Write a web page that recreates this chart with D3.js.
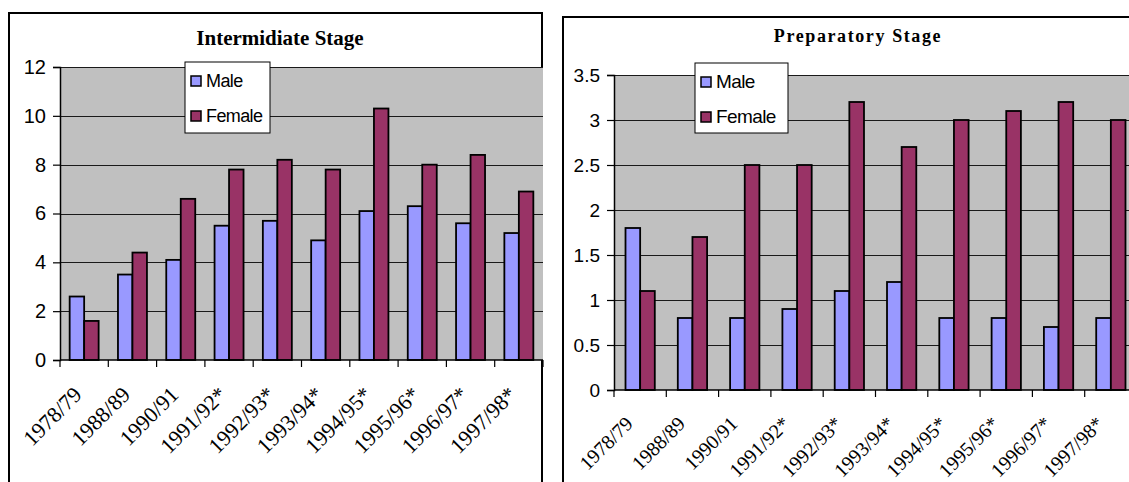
<!DOCTYPE html>
<html>
<head>
<meta charset="utf-8">
<script src="https://cdn.jsdelivr.net/npm/d3@7"></script>
<style>
  html, body { margin: 0; padding: 0; background: #fff; }
  svg { display: block; }
</style>
</head>
<body>
<svg id="chart" width="1129" height="482"></svg>
<script>
// School years shown on both charts
const years = ["1978/79", "1988/89", "1990/91", "1991/92*", "1992/93*", "1993/94*", "1994/95*", "1995/96*", "1996/97*", "1997/98*"];
const seriesNames = ["Male", "Female"];

// Intermidiate Stage values
const intermMale   = [2.6, 3.5, 4.1, 5.5, 5.7, 4.9, 6.1, 6.3, 5.6, 5.2];
const intermFemale = [1.6, 4.4, 6.6, 7.8, 8.2, 7.8, 10.3, 8.0, 8.4, 6.9];
const intermTicks  = [0, 2, 4, 6, 8, 10, 12];

// Preparatory Stage values
const prepMale   = [1.8, 0.8, 0.8, 0.9, 1.1, 1.2, 0.8, 0.8, 0.7, 0.8];
const prepFemale = [1.1, 1.7, 2.5, 2.5, 3.2, 2.7, 3.0, 3.1, 3.2, 3.0];
const prepTicks  = [0, 0.5, 1, 1.5, 2, 2.5, 3, 3.5];

const colors = { Male: "#9999FF", Female: "#993366" };

const svg = d3.select("#chart");

function drawChart(cfg) {
  const g = svg.append("g");

  // outer frame
  g.append("rect")
    .attr("x", cfg.frame[0]).attr("y", cfg.frame[1])
    .attr("width", cfg.frame[2]).attr("height", cfg.frame[3])
    .attr("fill", "#fff").attr("stroke", "#000").attr("stroke-width", 2);

  // title
  g.append("text")
    .attr("x", cfg.titleX).attr("y", cfg.titleY)
    .attr("text-anchor", "middle")
    .attr("font-family", "'Liberation Serif', 'Times New Roman', serif")
    .attr("font-weight", "bold")
    .attr("font-size", cfg.titleSize)
    .attr("letter-spacing", cfg.titleSpacing)
    .text(cfg.title);

  const x = d3.scaleBand().domain(years).range([cfg.left, cfg.right]).padding(0);
  const y = d3.scaleLinear().domain([0, cfg.ticks[cfg.ticks.length - 1]]).range([cfg.bottom, cfg.top]);
  const pad = (1 / cfg.pairRatio - 1);
  const xs = d3.scaleBand().domain(seriesNames).range([0, x.bandwidth()]).paddingInner(0).paddingOuter(pad);

  // plot background
  g.append("rect")
    .attr("x", cfg.left).attr("y", cfg.top)
    .attr("width", cfg.right - cfg.left).attr("height", cfg.bottom - cfg.top)
    .attr("fill", "#C0C0C0");

  // gridlines
  g.append("g").selectAll("line").data(cfg.ticks.slice(1)).join("line")
    .attr("x1", cfg.left).attr("x2", cfg.right)
    .attr("y1", d => Math.round(y(d)) + 0.5).attr("y2", d => Math.round(y(d)) + 0.5)
    .attr("stroke", "#1a1a1a").attr("stroke-width", 1);

  // bars
  const rows = years.map((yr, i) => ({ year: yr, Male: cfg.male[i], Female: cfg.female[i] }));
  const groups = g.append("g").selectAll("g").data(rows).join("g")
    .attr("transform", d => `translate(${x(d.year)},0)`);
  groups.selectAll("rect").data(d => seriesNames.map(k => ({ key: k, value: d[k] }))).join("rect")
    .attr("x", d => xs(d.key))
    .attr("y", d => y(d.value))
    .attr("width", xs.bandwidth())
    .attr("height", d => cfg.bottom - y(d.value))
    .attr("fill", d => colors[d.key])
    .attr("stroke", "#000").attr("stroke-width", 1.8);

  // y axis
  const yAxis = d3.axisLeft(y).tickValues(cfg.ticks).tickSize(7).tickPadding(7)
    .tickFormat(d3.format("~g"));
  const ya = g.append("g").attr("transform", `translate(${cfg.left},0)`).call(yAxis);
  ya.select(".domain").attr("stroke", "#000").attr("stroke-width", 1.5);
  ya.selectAll(".tick line").attr("stroke", "#000").attr("stroke-width", 1.2);
  ya.selectAll(".tick text")
    .attr("font-family", "'Liberation Sans', Arial, sans-serif")
    .attr("font-size", cfg.yLabelSize).attr("fill", "#000");

  // x axis: ticks at category boundaries
  const xa = g.append("g").attr("transform", `translate(0,${cfg.bottom})`);
  xa.append("line").attr("x1", cfg.left).attr("x2", cfg.right)
    .attr("stroke", "#000").attr("stroke-width", 1.5);
  const bounds = years.map(d => x(d)).concat([cfg.right]);
  xa.selectAll(".bt").data(bounds).join("line").attr("class", "bt")
    .attr("x1", d => d).attr("x2", d => d).attr("y1", 0).attr("y2", 7)
    .attr("stroke", "#000").attr("stroke-width", 1.2);
  xa.selectAll("text").data(years).join("text")
    .attr("transform", d => `translate(${x(d) + x.bandwidth() / 2 + cfg.xLabelDx},${cfg.xLabelDy}) rotate(-45)`)
    .attr("text-anchor", "end")
    .attr("font-family", "'Liberation Serif', 'Times New Roman', serif")
    .attr("font-size", cfg.xLabelSize)
    .text(d => d);

  // legend
  const lg = g.append("g");
  lg.append("rect")
    .attr("x", cfg.legend[0]).attr("y", cfg.legend[1])
    .attr("width", cfg.legend[2]).attr("height", cfg.legend[3])
    .attr("fill", "#fff").attr("stroke", "#000").attr("stroke-width", 1);
  seriesNames.forEach((k, i) => {
    const cy = cfg.legend[1] + cfg.legendRow0 + i * cfg.legendStep;
    lg.append("rect")
      .attr("x", cfg.legend[0] + 6).attr("y", cy - 5)
      .attr("width", 10).attr("height", 10)
      .attr("fill", colors[k]).attr("stroke", "#000").attr("stroke-width", 1.5);
    lg.append("text")
      .attr("x", cfg.legend[0] + 21).attr("y", cy + 6)
      .attr("font-family", "'Liberation Sans', Arial, sans-serif")
      .attr("font-size", cfg.legendSize)
      .attr("letter-spacing", -0.6)
      .text(k);
  });
}

drawChart({
  title: "Intermidiate Stage", titleX: 280, titleY: 45, titleSize: 21, titleSpacing: 0,
  frame: [9, 13, 533, 500],
  left: 60, right: 543, top: 67, bottom: 360,
  male: intermMale, female: intermFemale, ticks: intermTicks,
  pairRatio: 0.6,
  yLabelSize: 20, xLabelSize: 22, xLabelDx: -1, xLabelDy: 36,
  legend: [185, 62, 85, 71], legendRow0: 19, legendStep: 35, legendSize: 18
});

drawChart({
  title: "Preparatory Stage", titleX: 858, titleY: 42, titleSize: 18, titleSpacing: 1.6,
  frame: [563, 17, 600, 500],
  left: 614, right: 1137, top: 75, bottom: 390,
  male: prepMale, female: prepFemale, ticks: prepTicks,
  pairRatio: 0.56,
  yLabelSize: 19, xLabelSize: 20, xLabelDx: -6, xLabelDy: 35,
  legend: [695, 63, 93, 70], legendRow0: 19, legendStep: 35, legendSize: 19
});
</script>
</body>
</html>
